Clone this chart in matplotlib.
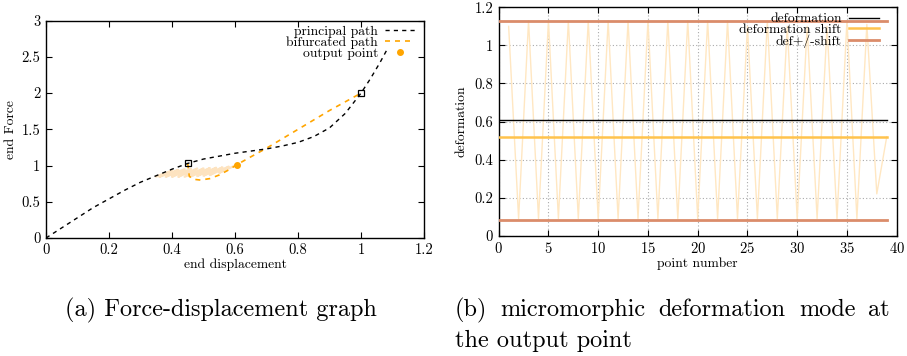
import numpy as np
import matplotlib
matplotlib.use("Agg")
import matplotlib.pyplot as plt

plt.rcParams['font.family'] = ['cmr10', 'DejaVu Serif']
plt.rcParams['axes.formatter.use_mathtext'] = True
plt.rcParams['mathtext.fontset'] = 'cm'

# ---- left panel data ----
principal_u = [0, 0.05, 0.1, 0.15, 0.2, 0.25, 0.3, 0.35, 0.4, 0.45, 0.5, 0.55, 0.6,
               0.65, 0.7, 0.75, 0.8, 0.85, 0.9, 0.95, 1.0, 1.03, 1.06, 1.085]
principal_F = [0, 0.14, 0.28, 0.42, 0.54, 0.66, 0.77, 0.86, 0.95, 1.03, 1.09, 1.13, 1.17,
               1.20, 1.23, 1.27, 1.32, 1.40, 1.52, 1.72, 2.0, 2.2, 2.42, 2.62]
bif_u = [0.45, 0.452, 0.455, 0.47, 0.49, 0.52, 0.55, 0.58, 0.605, 0.65, 0.7, 0.75,
         0.8, 0.85, 0.9, 0.95, 1.0]
bif_F = [1.03, 0.95, 0.85, 0.81, 0.80, 0.82, 0.87, 0.94, 1.01, 1.12, 1.24, 1.37,
         1.50, 1.63, 1.76, 1.88, 2.0]
shade_u = [0.35, 0.40, 0.36, 0.42, 0.38, 0.44, 0.40, 0.46, 0.42, 0.48, 0.44, 0.50,
           0.46, 0.52, 0.48, 0.54, 0.50, 0.56, 0.52, 0.58, 0.55, 0.60]
shade_F = [0.85, 0.93, 0.845, 0.94, 0.845, 0.95, 0.845, 0.955, 0.845, 0.96, 0.845, 0.96,
           0.85, 0.965, 0.855, 0.97, 0.86, 0.975, 0.87, 0.985, 0.90, 1.0]
bif_points_u = [0.45, 1.0]
bif_points_F = [1.035, 2.0]
output_u = [0.605]
output_F = [1.01]

# ---- right panel data ----
point_number = list(range(0, 40))
deformation = [0.607] * 40
deformation_shift = [0.52] * 40
def_plus = [1.128] * 40
def_minus = [0.085] * 40
zig_x = list(range(1, 40))
zig_y = [1.10, 0.09, 1.13, 0.09, 1.13, 0.09, 1.13, 0.09, 1.13, 0.09,
         1.13, 0.09, 1.13, 0.09, 1.13, 0.09, 1.13, 0.09, 1.13, 0.09,
         1.13, 0.09, 1.13, 0.09, 1.10, 0.09, 1.13, 0.09, 1.10, 0.09,
         1.10, 0.09, 1.10, 0.09, 1.13, 0.09, 1.11, 0.22, 0.52]

caption_a = '(a) Force-displacement graph'
caption_b1 = ['(b)', 'micromorphic', 'deformation', 'mode', 'at']
caption_b2 = 'the output point'

FS = 9.8
TFS = 10.5
ORANGE = '#FFA500'
PALE = '#FDE3C0'

fig = plt.figure(figsize=(9.07, 3.56), dpi=100)
ax1 = fig.add_axes([46/907, 1-238/356, (424-46)/907, (238-20.7)/356])
ax2 = fig.add_axes([498.7/907, 1-235.7/356, (896.7-498.7)/907, (235.7-7.3)/356])

def style(ax):
    ax.tick_params(direction='in', length=4, width=0.8, top=True, right=True,
                   labelsize=TFS, pad=4)
    for s in ax.spines.values():
        s.set_linewidth(1.0)

# left
ax1.plot(shade_u, shade_F, color=PALE, lw=1.6, zorder=1)
ax1.plot(principal_u, principal_F, color='black', lw=1.0, ls=(0, (3, 3)),
         label='principal path', zorder=3)
ax1.plot(bif_u, bif_F, color=ORANGE, lw=1.2, ls=(0, (3, 3)),
         label='bifurcated path', zorder=2)
ax1.plot(bif_points_u, bif_points_F, ls='none', marker='s', ms=4, mfc='none',
         mec='black', mew=0.9, zorder=4)
ax1.plot(output_u, output_F, ls='none', marker='o', ms=4, color=ORANGE,
         label='output point', zorder=4)
ax1.set_xlim(0, 1.2)
ax1.set_ylim(0, 3)
ax1.set_xticks(np.arange(0, 1.21, 0.2))
ax1.set_xticklabels(['0', '0.2', '0.4', '0.6', '0.8', '1', '1.2'])
ax1.set_yticks(np.arange(0, 3.01, 0.5))
ax1.set_yticklabels(['0', '0.5', '1', '1.5', '2', '2.5', '3'])
ax1.set_xlabel('end displacement', fontsize=FS, labelpad=1)
ax1.set_ylabel('end Force', fontsize=FS, labelpad=3)
style(ax1)
leg1 = ax1.legend(loc='upper right', frameon=False, markerfirst=False, fontsize=FS,
                  handlelength=2.2, labelspacing=-0.12, borderaxespad=0.0,
                  handletextpad=0.5, bbox_to_anchor=(0.99, 1.003))
for t in leg1.get_texts():
    t.set_ha('right')

# right
ax2.grid(True, color='#aaaaaa', ls=(0, (1, 2)), lw=0.8)
ax2.plot(zig_x, zig_y, color='#FFE7C2', lw=1.0, zorder=2)
ax2.plot(point_number, deformation, color='black', lw=1.0, label='deformation', zorder=3)
ax2.plot(point_number, deformation_shift, color='#FFC34D', lw=1.8,
         label='deformation shift', zorder=3)
ax2.plot(point_number, def_plus, color='#DB8C6A', lw=2.0, label='def+/-shift', zorder=3)
ax2.plot(point_number, def_minus, color='#DB8C6A', lw=2.0, zorder=3)
ax2.set_xlim(0, 40)
ax2.set_ylim(0, 1.2)
ax2.set_xticks(np.arange(0, 41, 5))
ax2.set_yticks(np.arange(0, 1.21, 0.2))
ax2.set_yticklabels(['0', '0.2', '0.4', '0.6', '0.8', '1', '1.2'])
ax2.set_xlabel('point number', fontsize=FS, labelpad=1)
ax2.set_ylabel('deformation', fontsize=FS, labelpad=5)
style(ax2)
leg2 = ax2.legend(loc='upper right', frameon=False, markerfirst=False, fontsize=FS,
                  handlelength=2.2, labelspacing=-0.12, borderaxespad=0.0,
                  handletextpad=0.5, bbox_to_anchor=(0.968, 1.0))
for t in leg2.get_texts():
    t.set_ha('right')

# captions
CFS = 17.5
fig.text(221/907, 1-310/356, caption_a, fontsize=CFS, ha='center', va='center')
# justified first line of caption (b)
x_left, x_right = 455, 890
words = [fig.text(0, 1-310/356, w, fontsize=CFS, ha='left', va='center')
         for w in caption_b1]
fig.canvas.draw()
r = fig.canvas.get_renderer()
widths = [w.get_window_extent(r).width for w in words]
gap = (x_right - x_left - sum(widths)) / (len(words) - 1)
x = x_left
for w, wd in zip(words, widths):
    w.set_x(x / 907)
    x += wd + gap
fig.text(x_left/907, 1-341/356, caption_b2, fontsize=CFS, ha='left', va='center')

fig.savefig('out.png', dpi=100)
